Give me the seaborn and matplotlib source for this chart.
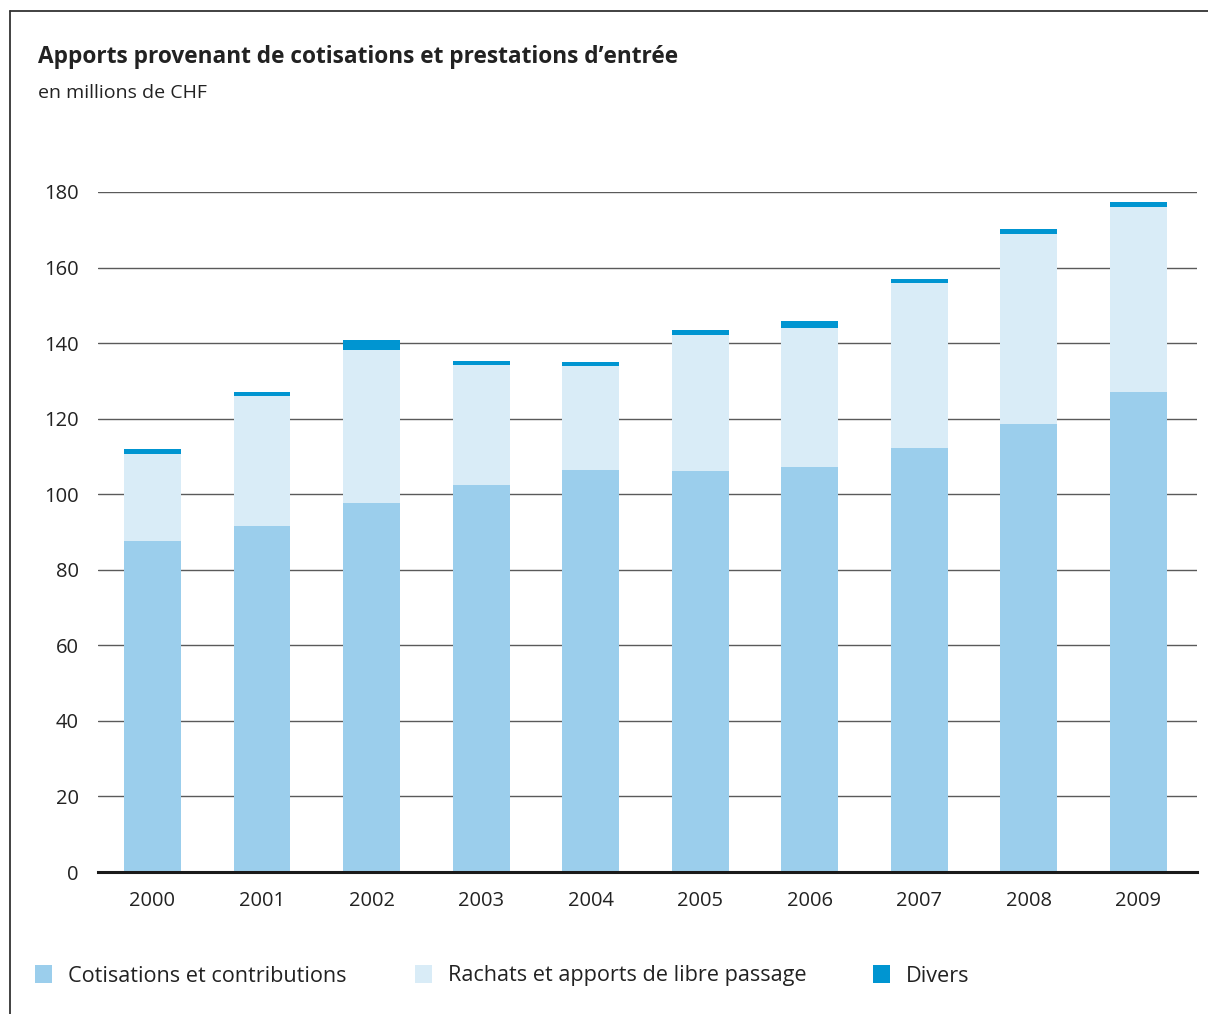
import matplotlib
matplotlib.use("Agg")
import matplotlib.pyplot as plt
from matplotlib.patches import Rectangle
from matplotlib.lines import Line2D
import seaborn as sns
import pandas as pd
import numpy as np

years = ["2000", "2001", "2002", "2003", "2004", "2005", "2006", "2007", "2008", "2009"]
cotisations = [87.6, 91.6, 97.7, 102.4, 106.4, 106.1, 107.2, 112.2, 118.6, 127.1]
rachats = [23.0, 34.4, 40.5, 31.8, 27.6, 36.1, 36.8, 43.7, 50.3, 49.0]
divers = [1.3, 1.1, 2.6, 1.0, 1.1, 1.3, 1.9, 1.1, 1.3, 1.3]
series_names = ["Cotisations et contributions", "Rachats et apports de libre passage", "Divers"]
colors = ["#9BCEEC", "#D9ECF7", "#0095D1"]
yticks = [0, 20, 40, 60, 80, 100, 120, 140, 160, 180]

sns.set_theme(style="white")
plt.rcParams["font.family"] = ["Open Sans", "DejaVu Sans"]

df = pd.DataFrame({"year": years, "cot": cotisations, "rach": rachats, "div": divers})
df["lvl2"] = df["cot"] + df["rach"]
df["lvl3"] = df["lvl2"] + df["div"]

fig = plt.figure(figsize=(12.08, 10.14), dpi=100)
ax = fig.add_axes([98 / 1208, 1 - 872 / 1014, 1099 / 1208, 680 / 1014])

for col, c in [("lvl3", colors[2]), ("lvl2", colors[1]), ("cot", colors[0])]:
    sns.barplot(data=df, x="year", y=col, color=c, width=0.52, ax=ax,
                saturation=1, linewidth=0, zorder=3, clip_on=False)

ax.set_xlim(-0.497, 9.534)
ax.set_ylim(0, 180)
ax.set_yticks(yticks)
ax.set_yticklabels([str(t) for t in yticks])
ax.yaxis.grid(True, color="#5a5a5a", linewidth=1.0, zorder=0)
ax.set_axisbelow(True)
for s in ["top", "right", "left"]:
    ax.spines[s].set_visible(False)
ax.spines["bottom"].set_color("#1a1a1a")
ax.spines["bottom"].set_linewidth(2.2)
ax.spines["bottom"].set_zorder(5)
ax.tick_params(axis="y", length=0, pad=14, labelsize=14.5, labelcolor="#222222")
ax.tick_params(axis="x", length=0, pad=14, labelsize=14.5, labelcolor="#222222")
ax.set_xlabel("")
ax.set_ylabel("")

# Title and subtitle
fig.text(38 / 1208, 1 - 57 / 1014, "Apports provenant de cotisations et prestations d\u2019entrée",
         fontsize=16.3, fontweight="bold", color="#222222", va="center", ha="left")
fig.text(38 / 1208, 1 - 93 / 1014, "en millions de CHF",
         fontsize=14, color="#222222", va="center", ha="left")

# Frame lines (top and left)
fig.add_artist(Line2D([10 / 1208, 1.0], [1 - 11 / 1014, 1 - 11 / 1014], color="#333333", linewidth=1.3))
fig.add_artist(Line2D([10 / 1208, 10 / 1208], [1 - 11 / 1014, 0.0], color="#333333", linewidth=1.3))

# Legend
legend_x = [35, 415, 873]
for x0, name, c in zip(legend_x, series_names, colors):
    fig.add_artist(Rectangle((x0 / 1208, 1 - 983 / 1014), 17 / 1208, 18 / 1014,
                             facecolor=c, edgecolor="none", transform=fig.transFigure))
    fig.text((x0 + 33) / 1208, 1 - 976 / 1014, name, fontsize=15.6, color="#222222",
             va="center", ha="left")

fig.savefig("out.png", dpi=100)
